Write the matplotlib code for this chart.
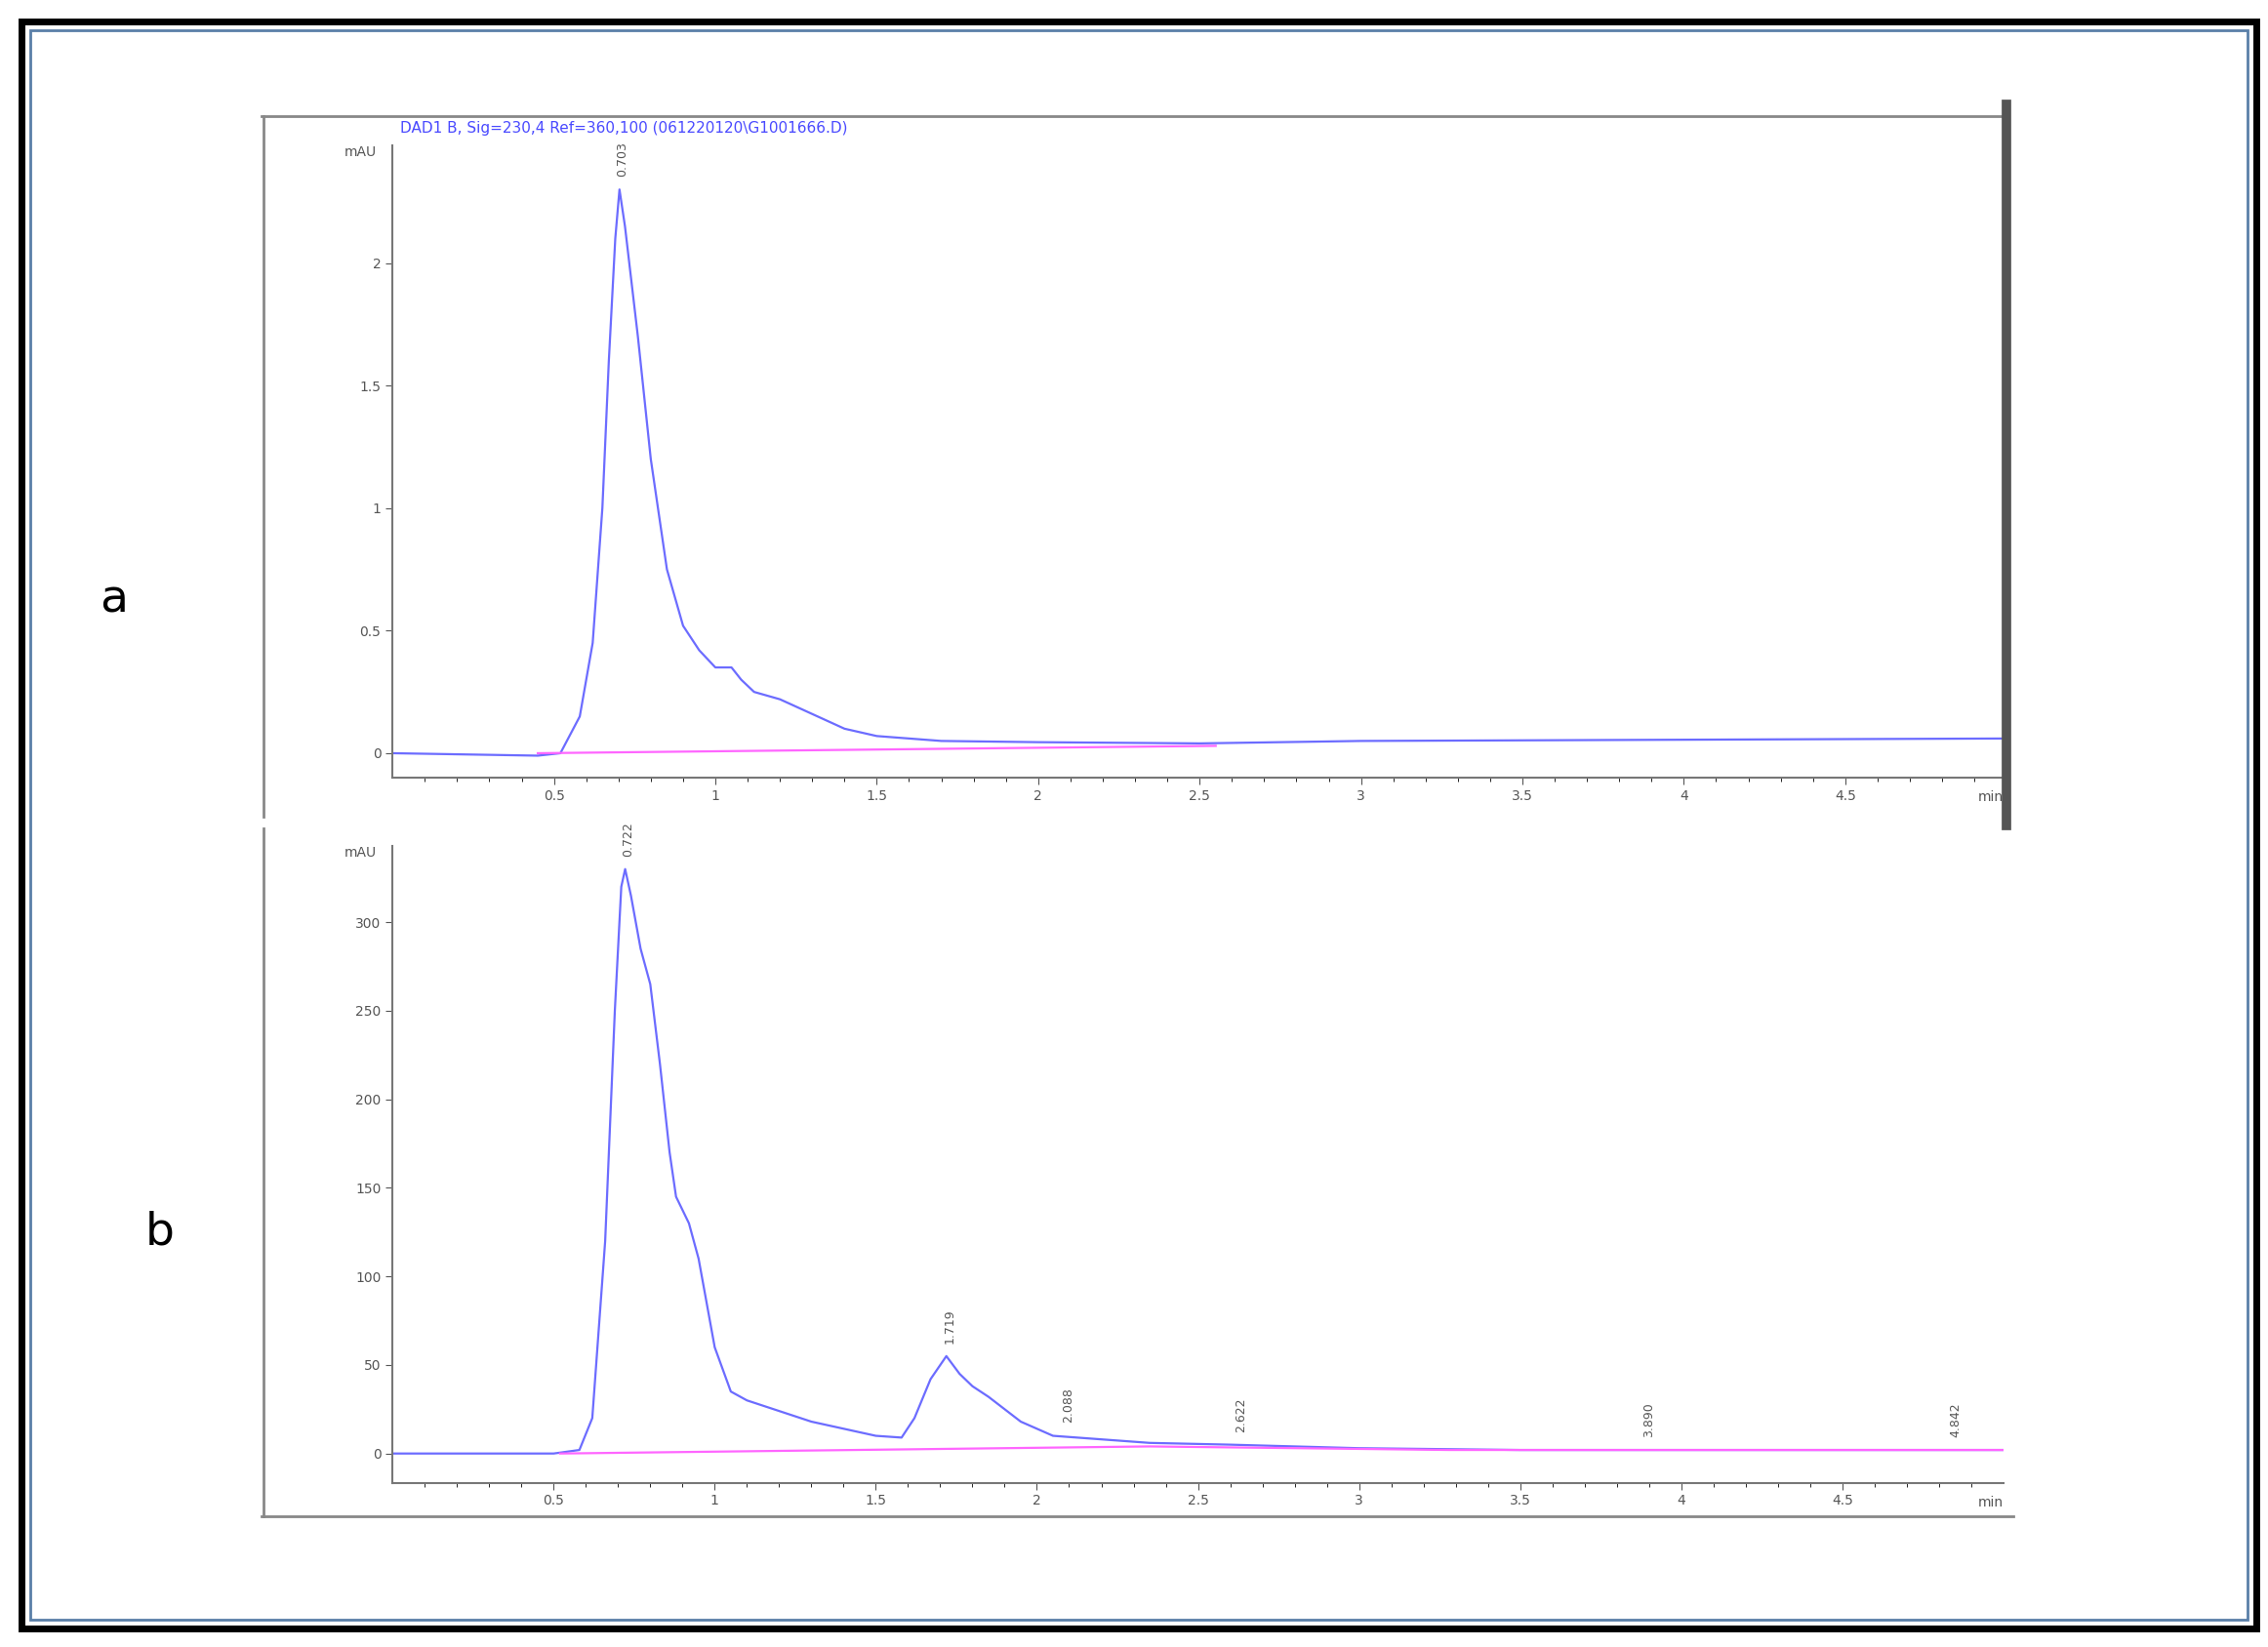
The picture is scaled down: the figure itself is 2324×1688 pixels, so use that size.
import numpy as np
import matplotlib
matplotlib.use('Agg')
import matplotlib.pyplot as plt
from matplotlib.patches import Rectangle
from matplotlib.lines import Line2D

# panel a trace (min, mAU)
a_t = [0.0, 0.45, 0.52, 0.58, 0.62, 0.65, 0.67, 0.69, 0.703, 0.72, 0.76, 0.80, 0.85, 0.90,
       0.95, 1.00, 1.05, 1.08, 1.12, 1.20, 1.30, 1.40, 1.50, 1.70, 2.00, 2.50, 3.00, 4.00, 5.00]
a_y = [0.0, -0.01, 0.0, 0.15, 0.45, 1.0, 1.6, 2.1, 2.3, 2.15, 1.7, 1.2, 0.75, 0.52,
       0.42, 0.35, 0.35, 0.30, 0.25, 0.22, 0.16, 0.10, 0.07, 0.05, 0.045, 0.04, 0.05, 0.055, 0.06]
a_base_t = [0.45, 2.55]
a_base_y = [0.0, 0.03]
a_peaks = [(0.703, 2.3, '0.703')]

# panel b trace
b_t = [0.0, 0.5, 0.58, 0.62, 0.66, 0.69, 0.71, 0.722, 0.74, 0.77, 0.80, 0.83, 0.86, 0.88, 0.92,
       0.95, 1.00, 1.05, 1.10, 1.20, 1.30, 1.40, 1.50, 1.58, 1.62, 1.67, 1.719, 1.76, 1.80, 1.85,
       1.95, 2.05, 2.20, 2.35, 2.60, 2.80, 3.00, 3.50, 4.00, 5.00]
b_y = [0, 0, 2, 20, 120, 250, 320, 330, 315, 285, 265, 220, 170, 145, 130,
       110, 60, 35, 30, 24, 18, 14, 10, 9, 20, 42, 55, 45, 38, 32,
       18, 10, 8, 6, 5, 4, 3, 2, 2, 2]
b_base_t = [0.52, 2.35, 3.28, 5.0]
b_base_y = [0.0, 4.0, 2.0, 2.0]
b_peaks = [(0.722, 330, '0.722'), (1.719, 55, '1.719'), (2.088, 10, '2.088'),
           (2.622, 5, '2.622'), (3.890, 2, '3.890'), (4.842, 2, '4.842')]

W, H = 1560, 1133
fig = plt.figure(figsize=(23.24, 16.88), dpi=100)

def fx(x): return x / W
def fy(y): return 1 - y / H

# outer frames
fig.add_artist(Rectangle((fx(15), fy(1120)), fx(1537), 1105 / H, fill=False, lw=5, ec='black'))
fig.add_artist(Rectangle((fx(21), fy(1114)), fx(1525), 1093 / H, fill=False, lw=2, ec='#5a7fa8'))

# panel boxes
fig.add_artist(Line2D([fx(180), fx(1380)], [fy(80), fy(80)], color='#888888', lw=2))
fig.add_artist(Line2D([fx(181), fx(181)], [fy(80), fy(562)], color='#888888', lw=2))
fig.add_artist(Line2D([fx(1380), fx(1380)], [fy(72), fy(568)], color='#555555', lw=7))
fig.add_artist(Line2D([fx(181), fx(181)], [fy(570), fy(1043)], color='#888888', lw=2))
fig.add_artist(Line2D([fx(180), fx(1385)], [fy(1043), fy(1043)], color='#888888', lw=2))


def panel(top, bot, ymin, ymax, t, y, bt, by, peaks, yticks, ylabels, xmax):
    ax = fig.add_axes([fx(270), fy(bot), fx(1378) - fx(270), (bot - top) / H])
    ax.plot(t, y, color='#6c6cff', lw=1.6)
    ax.plot(bt, by, color='#ff66ff', lw=1.6)
    for px, py, lab in peaks:
        ax.text(px + 0.01, py + (ymax - ymin) * 0.02, lab, rotation=90, fontsize=9,
                color='#555555', ha='center', va='bottom')
    ax.set_xlim(0, xmax)
    ax.set_ylim(ymin, ymax)
    ax.set_xticks([0.5, 1, 1.5, 2, 2.5, 3, 3.5, 4, 4.5])
    ax.set_xticklabels(['0.5', '1', '1.5', '2', '2.5', '3', '3.5', '4', '4.5'])
    ax.set_xticks(np.arange(0.1, xmax, 0.1), minor=True)
    ax.set_yticks(yticks)
    ax.set_yticklabels(ylabels)
    ax.tick_params(labelsize=10, colors='#555555', direction='out', length=5)
    ax.tick_params(which='minor', length=3)
    for s in ['top', 'right']:
        ax.spines[s].set_visible(False)
    for s in ['left', 'bottom']:
        ax.spines[s].set_color('#777777')
        ax.spines[s].set_linewidth(1.5)
    ax.patch.set_alpha(0)
    ax.text(-0.01, 1.0, 'mAU', transform=ax.transAxes, ha='right', va='top',
            fontsize=10, color='#555555')
    ax.text(1.0, -0.02, 'min', transform=ax.transAxes, ha='right', va='top',
            fontsize=10, color='#555555')
    return ax


ax_a = panel(100, 535, -0.1, 2.48, a_t, a_y, a_base_t, a_base_y, a_peaks,
             [0, 0.5, 1, 1.5, 2], ['0', '0.5', '1', '1.5', '2'], 4.99)
ax_b = panel(582, 1020, -16.5, 343, b_t, b_y, b_base_t, b_base_y, b_peaks,
             [0, 50, 100, 150, 200, 250, 300], ['0', '50', '100', '150', '200', '250', '300'], 5.0)

fig.text(fx(275), fy(88), 'DAD1 B, Sig=230,4 Ref=360,100 (061220120\\G1001666.D)',
         color='#4a4aff', fontsize=11, va='center')
fig.text(fx(78), fy(413), 'a', fontsize=34, ha='center', va='center')
fig.text(fx(110), fy(848), 'b', fontsize=34, ha='center', va='center')

fig.savefig('out.png', dpi=100)
